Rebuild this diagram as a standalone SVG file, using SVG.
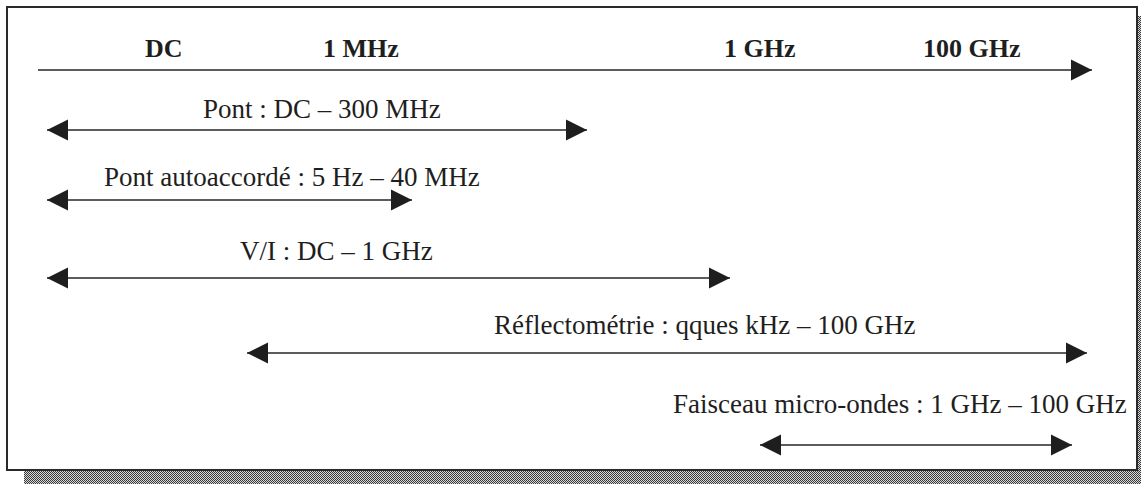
<svg xmlns="http://www.w3.org/2000/svg" width="1141" height="484" viewBox="0 0 1141 484">
  <defs>
    <pattern id="hatch" width="2" height="2" patternUnits="userSpaceOnUse">
      <rect width="2" height="2" fill="#d8d8d8"/>
      <rect width="1" height="1" fill="#3a3a3a"/>
      <rect x="1" y="1" width="1" height="1" fill="#3a3a3a"/>
    </pattern>
    <marker id="arr" markerUnits="userSpaceOnUse" markerWidth="22" markerHeight="22" refX="21" refY="10.5" orient="auto-start-reverse" viewBox="0 0 22 21">
      <path d="M0,0 L21,10.5 L0,21 Z" fill="#1e1e1e"/>
    </marker>
    <style>
      .lbl { font-family: "Liberation Serif", "Times New Roman", serif; font-size: 27px; fill: #1e1e1e; }
      .axis { font-family: "Liberation Serif", "Times New Roman", serif; font-size: 26px; font-weight: bold; fill: #1e1e1e; }
      .conn { stroke: #262626; stroke-width: 1.6; fill: none; }
    </style>
  </defs>

  <rect width="1141" height="484" fill="#ffffff"/>
  <g id="frame">
    <rect x="1137" y="16" width="4" height="468" fill="url(#hatch)"/>
    <rect x="24" y="471" width="1117" height="13" fill="url(#hatch)"/>
    <rect x="7" y="7" width="1130" height="463" fill="#ffffff" stroke="#2a2a2a" stroke-width="2"/>
  </g>

  <g id="axis-labels">
    <text class="axis" x="145" y="57">DC</text>
    <text class="axis" x="323" y="57">1 MHz</text>
    <text class="axis" x="724" y="57">1 GHz</text>
    <text class="axis" x="923" y="57">100 GHz</text>
  </g>

  <g id="range-pont"><text class="lbl" x="203" y="118">Pont : DC – 300 MHz</text></g>
  <g id="range-pont-auto"><text class="lbl" x="104" y="186">Pont autoaccordé : 5 Hz – 40 MHz</text></g>
  <g id="range-vi"><text class="lbl" x="240" y="260">V/I : DC – 1 GHz</text></g>
  <g id="range-reflecto"><text class="lbl" x="494" y="334">Réflectométrie : qques kHz – 100 GHz</text></g>
  <g id="range-faisceau"><text class="lbl" x="673" y="413">Faisceau micro-ondes : 1 GHz – 100 GHz</text></g>

  <g id="connectors">
    <line class="conn" x1="38" y1="70" x2="1092" y2="70" marker-end="url(#arr)"/>
    <line class="conn" x1="47" y1="130" x2="587" y2="130" marker-start="url(#arr)" marker-end="url(#arr)"/>
    <line class="conn" x1="47" y1="200" x2="412" y2="200" marker-start="url(#arr)" marker-end="url(#arr)"/>
    <line class="conn" x1="47" y1="278" x2="730" y2="278" marker-start="url(#arr)" marker-end="url(#arr)"/>
    <line class="conn" x1="247" y1="353" x2="1087" y2="353" marker-start="url(#arr)" marker-end="url(#arr)"/>
    <line class="conn" x1="760" y1="445" x2="1072" y2="445" marker-start="url(#arr)" marker-end="url(#arr)"/>
  </g>
</svg>
